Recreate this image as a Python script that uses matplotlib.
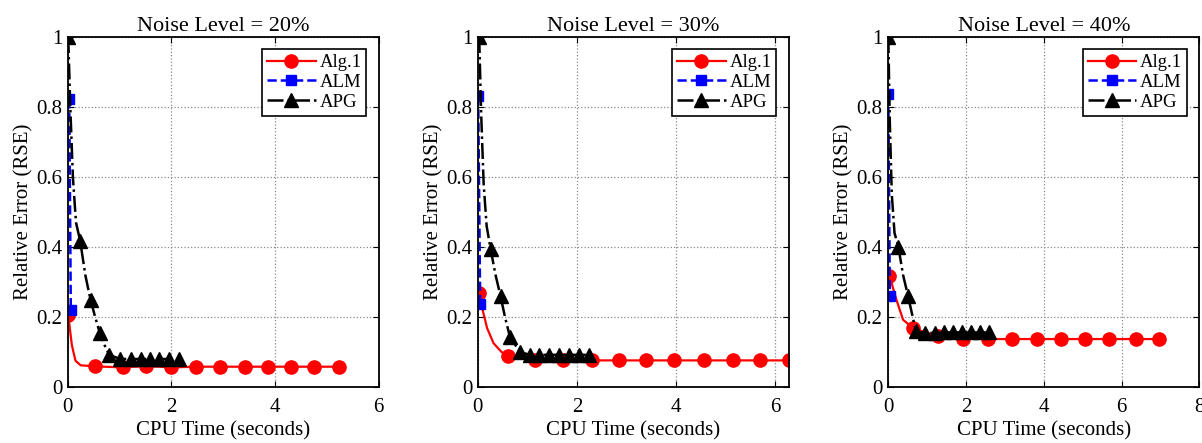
import matplotlib.pyplot as plt

plt.rcParams["font.family"] = ["Liberation Serif", "DejaVu Serif"]
plt.rcParams["xtick.direction"] = "in"
plt.rcParams["ytick.direction"] = "in"

titles = ["Noise Level = 20%", "Noise Level = 30%", "Noise Level = 40%"]
xmax = [6, 6.27, 8]
xticks = [[0, 2, 4, 6], [0, 2, 4, 6], [0, 2, 4, 6, 8]]
yticks = [0, 0.2, 0.4, 0.6, 0.8, 1]
ytick_labels = ["0", "0.2", "0.4", "0.6", "0.8", "1"]

# Alg.1 curves (line points; markers at listed indices)
alg_x = [
    [0.01, 0.08, 0.15, 0.25, 0.53, 1.06, 1.51, 1.99, 2.47, 2.94, 3.43, 3.86, 4.31, 4.76, 5.23],
    [0.03, 0.10, 0.19, 0.32, 0.48, 0.62, 1.15, 1.71, 2.31, 2.85, 3.40, 3.96, 4.56, 5.15, 5.70, 6.27],
    [0.03, 0.21, 0.38, 0.64, 1.28, 1.92, 2.56, 3.18, 3.82, 4.44, 5.06, 5.68, 6.37, 6.97],
]
alg_y = [
    [0.206, 0.12, 0.075, 0.062, 0.059, 0.056, 0.060, 0.056, 0.058, 0.058, 0.058, 0.058, 0.058, 0.058, 0.058],
    [0.270, 0.22, 0.168, 0.125, 0.100, 0.089, 0.078, 0.077, 0.076, 0.076, 0.076, 0.076, 0.076, 0.076, 0.076, 0.076],
    [0.318, 0.249, 0.192, 0.168, 0.145, 0.138, 0.137, 0.137, 0.137, 0.137, 0.137, 0.137, 0.137, 0.137],
]
alg_mark = [
    [0] + list(range(4, 15)),
    [0] + list(range(5, 16)),
    [0] + list(range(3, 14)),
]

# ALM curves
alm_x = [[0.03, 0.06], [0.01, 0.05], [0.0, 0.04]]
alm_y = [[0.822, 0.220], [0.831, 0.238], [0.836, 0.259]]

# APG curves
apg_x = [
    [0.01, 0.05, 0.10, 0.16, 0.24, 0.34, 0.44, 0.53, 0.62, 0.71, 0.80, 1.01, 1.22, 1.41, 1.59, 1.77, 1.96, 2.15],
    [0.03, 0.07, 0.12, 0.18, 0.26, 0.36, 0.46, 0.55, 0.65, 0.85, 1.05, 1.24, 1.44, 1.64, 1.85, 2.05, 2.25],
    [0.0, 0.04, 0.09, 0.16, 0.26, 0.38, 0.51, 0.71, 0.94, 1.20, 1.44, 1.67, 1.90, 2.12, 2.35, 2.58],
]
apg_y = [
    [1.0, 0.80, 0.60, 0.47, 0.418, 0.32, 0.249, 0.20, 0.154, 0.12, 0.092, 0.080, 0.080, 0.080, 0.080, 0.080, 0.080, 0.080],
    [1.0, 0.78, 0.58, 0.46, 0.394, 0.32, 0.260, 0.20, 0.143, 0.100, 0.092, 0.092, 0.092, 0.092, 0.092, 0.092, 0.092],
    [1.0, 0.75, 0.55, 0.44, 0.400, 0.32, 0.259, 0.159, 0.154, 0.155, 0.156, 0.156, 0.156, 0.156, 0.156, 0.156],
]
apg_mark = [
    [0, 4, 6, 8] + list(range(10, 18)),
    [0, 4, 6] + list(range(8, 17)),
    [0, 4, 6] + list(range(7, 16)),
]

W, H = 1202, 443
fig = plt.figure(figsize=(W / 100, H / 100), dpi=100)
lefts = [67.7, 477.7, 888.3]
for i in range(3):
    ax = fig.add_axes([lefts[i] / W, (H - 387) / H, 311 / W, 350 / H])
    ax.plot(alg_x[i], alg_y[i], "-", color="red", lw=1.6, marker="o",
            markersize=9.5, markevery=alg_mark[i], label="Alg.1")
    ax.plot(alm_x[i], alm_y[i], "--", color="blue", lw=1.8, marker="s",
            markersize=6.5, label="ALM")
    ax.plot(apg_x[i], apg_y[i], "-.", color="black", lw=1.8, marker="^",
            markersize=9.5, markevery=apg_mark[i], label="APG")
    ax.set_xlim(0, xmax[i])
    ax.set_ylim(0, 1)
    ax.set_xticks(xticks[i])
    ax.set_yticks(yticks, ytick_labels)
    ax.tick_params(labelsize=15, top=True, right=True, length=4)
    ax.tick_params(axis="x", pad=8)
    ax.tick_params(axis="y", pad=4)
    ax.grid(True, linestyle=":", color="#8a8a8a", lw=0.9)
    for s in ax.spines.values():
        s.set_linewidth(1.3)
    ax.set_title(titles[i], fontsize=16, pad=4)
    ax.set_xlabel("CPU Time (seconds)", fontsize=15, labelpad=3)
    ax.set_ylabel("Relative Error (RSE)", fontsize=15, labelpad=2)
    leg = ax.legend(loc="upper right", fontsize=13.5, handlelength=2.6,
                    fancybox=False, framealpha=1, borderpad=0.25,
                    labelspacing=0.15, handletextpad=0.2, borderaxespad=0,
                    bbox_to_anchor=(0.96, 0.965))
    leg.get_frame().set_edgecolor("black")
    leg.get_frame().set_linewidth(1.2)

fig.savefig("out.png", dpi=100)
